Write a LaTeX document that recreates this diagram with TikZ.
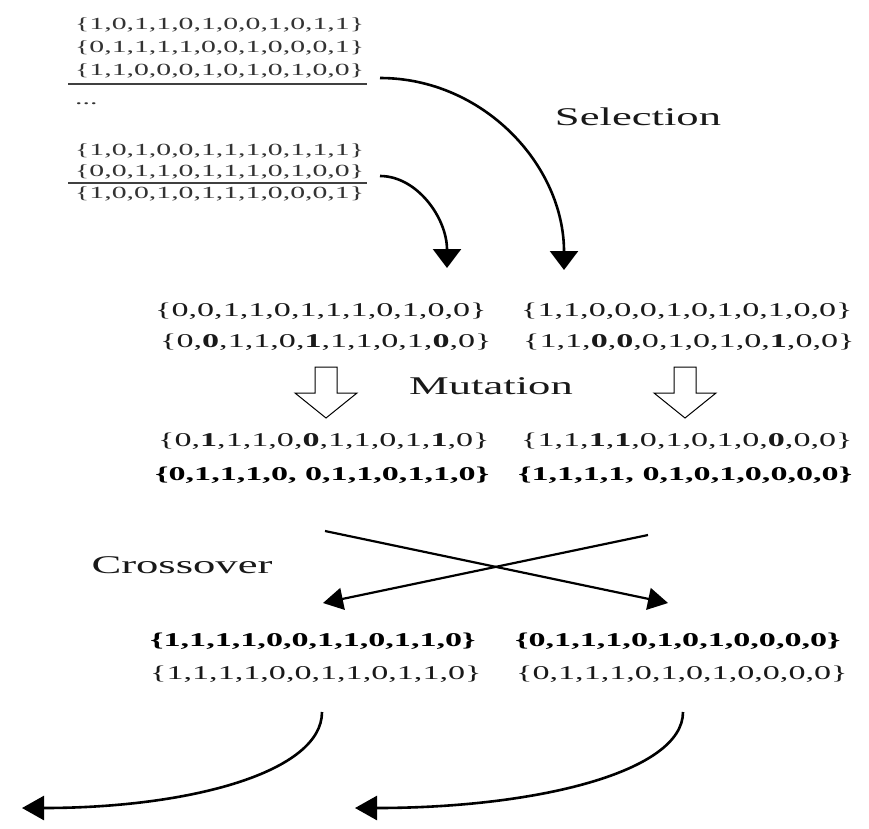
\documentclass[tikz,border=0pt]{standalone}
\usepackage{fontspec}
\setmainfont{Liberation Serif}[FakeStretch=1.75]
\usetikzlibrary{arrows.meta, positioning}
\tikzstyle{chromsmall} = [anchor=west, inner sep=0pt, text=black!80, font=\fontsize{17}{20}\selectfont]
\tikzstyle{chrom} = [anchor=west, inner sep=0pt, text=black!90, font=\fontsize{19.5}{22}\selectfont]
\tikzstyle{chrombold} = [anchor=west, inner sep=0pt, text=black, font=\fontsize{19.5}{22}\selectfont\bfseries]
\tikzstyle{oper} = [inner sep=0pt, text=black!90, font=\fontsize{25.5}{28}\selectfont]
\tikzstyle{rule} = [line width=1.2pt, black!75]
\tikzstyle{selarrow} = [line width=2.6pt, -{Triangle[length=19pt,width=28pt]}]
\tikzstyle{crossarrow} = [line width=2.2pt, -{Triangle[length=20pt,width=22pt]}]
\tikzstyle{backarrow} = [line width=2.6pt, -{Triangle[length=22pt,width=24pt]}]
\tikzstyle{hollow} = [line width=1pt, fill=white, draw=black]

\begin{document}
\begin{tikzpicture}[x=1pt, y=-1pt]
\useasboundingbox (0,0) rectangle (869,828);

% Population
\node (t1) [chromsmall] at (75,25) {\{1,0,1,1,0,1,0,0,1,0,1,1\}};
\node (t2) [chromsmall] at (75,48) {\{0,1,1,1,1,0,0,1,0,0,0,1\}};
\node (t3) [chromsmall] at (75,71) {\{1,1,0,0,0,1,0,1,0,1,0,0\}};
\node (dots) [chromsmall] at (75,104) {...};
\node (t4) [chromsmall] at (75,151) {\{1,0,1,0,0,1,1,1,0,1,1,1\}};
\node (t5) [chromsmall] at (75,172) {\{0,0,1,1,0,1,1,1,0,1,0,0\}};
\node (t6) [chromsmall] at (75,194) {\{1,0,0,1,0,1,1,1,0,0,0,1\}};
\draw[rule] (68,84) -- (367,84);
\draw[rule] (68,183) -- (367,183);

% Selection
\node (sel) [oper] at (638,117) {Selection};
\coordinate (selbigS) at (380,78);
\coordinate (selbigE) at (564,270);
\coordinate (selsmallS) at (380,176);
\coordinate (selsmallE) at (447,268);
\draw[selarrow] (selbigS) .. controls (483,78) and (564,165) .. (selbigE);
\draw[selarrow] (selsmallS) .. controls (417,176) and (447,218) .. (selsmallE);

% Selected parents
\node (a1) [chrom] at (155,311) {\{0,0,1,1,0,1,1,1,0,1,0,0\}};
\node (a2) [chrom] at (521,311) {\{1,1,0,0,0,1,0,1,0,1,0,0\}};
\node (b1) [chrom] at (160,342) {\{0,\textbf{0},1,1,0,\textbf{1},1,1,0,1,\textbf{0},0\}};
\node (b2) [chrom] at (523,342) {\{1,1,\textbf{0},\textbf{0},0,1,0,1,0,\textbf{1},0,0\}};

% Mutation
\node (mut) [oper] at (491,386) {Mutation};
\foreach \x in {326,685}
  \draw[hollow, shift={(\x,418)}] (0,0) -- (-31,-25) -- (-11,-25) -- (-11,-51)
    -- (11,-51) -- (11,-25) -- (31,-25) -- cycle;

% Mutated
\node (c1) [chrom] at (158,441) {\{0,\textbf{1},1,1,0,\textbf{0},1,1,0,1,\textbf{1},0\}};
\node (c2) [chrom] at (521,441) {\{1,1,\textbf{1},\textbf{1},0,1,0,1,0,\textbf{0},0,0\}};
\node (d1) [chrombold] at (155,475) {\{0,1,1,1,0, 0,1,1,0,1,1,0\}};
\node (d2) [chrombold] at (518,475) {\{1,1,1,1, 0,1,0,1,0,0,0,0\}};

% Crossover
\node (cross) [oper] at (182,565) {Crossover};
\coordinate (xlS) at (325,531);
\coordinate (xlE) at (668,603);
\coordinate (xrS) at (648,535);
\coordinate (xrE) at (323,603);
\draw[crossarrow] (xlS) -- (xlE);
\draw[crossarrow] (xrS) -- (xrE);

% Offspring
\node (e1) [chrombold] at (150,641) {\{1,1,1,1,0,0,1,1,0,1,1,0\}};
\node (e2) [chrombold] at (515,641) {\{0,1,1,1,0,1,0,1,0,0,0,0\}};
\node (f1) [chrom] at (150,674) {\{1,1,1,1,0,0,1,1,0,1,1,0\}};
\node (f2) [chrom] at (516,674) {\{0,1,1,1,0,1,0,1,0,0,0,0\}};

% Back to population
\coordinate (blS) at (322,712);
\coordinate (blE) at (22,808);
\coordinate (brS) at (683,712);
\coordinate (brE) at (355,808);
\draw[backarrow] (blS) .. controls (322,772) and (190,808) .. (blE);
\draw[backarrow] (brS) .. controls (683,772) and (536,808) .. (brE);

\end{tikzpicture}
\end{document}
